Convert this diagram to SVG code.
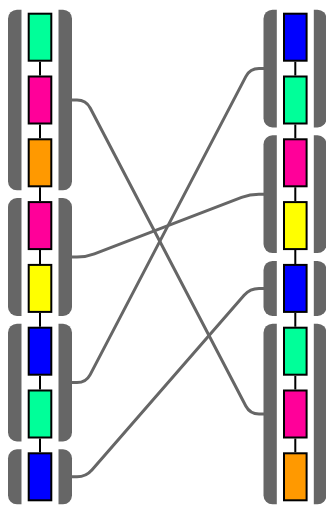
<svg xmlns="http://www.w3.org/2000/svg" width="326" height="505" viewBox="0 0 326 505">
<style>
.grp{fill:#666666}
.strip{fill:#ffffff}
.box{stroke:#000000;stroke-width:2}
.teal{fill:#00ff99}
.mag{fill:#ff0099}
.org{fill:#ff9900}
.yel{fill:#ffff00}
.blu{fill:#0000ff}
.link{fill:none;stroke:#666666;stroke-width:3}
.chain{stroke:#000000;stroke-width:2}
</style>
<rect width="326" height="505" fill="#ffffff"/>
<g id="left-1">
<rect class="grp" x="8" y="9.7" width="64" height="180.6" rx="9"/>
<rect class="strip" x="21.5" y="9" width="37" height="182"/>
<rect class="box teal" x="28.7" y="13.7" width="22.6" height="47"/>
<rect class="box mag" x="28.7" y="76.5" width="22.6" height="47"/>
<rect class="box org" x="28.7" y="139.3" width="22.6" height="47"/>
</g>
<g id="left-2">
<rect class="grp" x="8" y="198.1" width="64" height="117.8" rx="9"/>
<rect class="strip" x="21.5" y="197" width="37" height="120"/>
<rect class="box mag" x="28.7" y="202.1" width="22.6" height="47"/>
<rect class="box yel" x="28.7" y="264.9" width="22.6" height="47"/>
</g>
<g id="left-3">
<rect class="grp" x="8" y="323.7" width="64" height="117.8" rx="9"/>
<rect class="strip" x="21.5" y="323" width="37" height="120"/>
<rect class="box blu" x="28.7" y="327.7" width="22.6" height="47"/>
<rect class="box teal" x="28.7" y="390.5" width="22.6" height="47"/>
</g>
<g id="left-4">
<rect class="grp" x="8" y="449.3" width="64" height="55" rx="9"/>
<rect class="strip" x="21.5" y="449" width="37" height="56"/>
<rect class="box blu" x="28.7" y="453.3" width="22.6" height="47"/>
</g>
<g id="right-1">
<rect class="grp" x="263.5" y="9.7" width="63" height="117.8" rx="9"/>
<rect class="strip" x="276.8" y="9" width="37" height="120"/>
<rect class="box blu" x="284" y="13.7" width="22.6" height="47"/>
<rect class="box teal" x="284" y="76.5" width="22.6" height="47"/>
</g>
<g id="right-2">
<rect class="grp" x="263.5" y="135.3" width="63" height="117.8" rx="9"/>
<rect class="strip" x="276.8" y="135" width="37" height="120"/>
<rect class="box mag" x="284" y="139.3" width="22.6" height="47"/>
<rect class="box yel" x="284" y="202.1" width="22.6" height="47"/>
</g>
<g id="right-3">
<rect class="grp" x="263.5" y="260.9" width="63" height="55" rx="9"/>
<rect class="strip" x="276.8" y="260" width="37" height="57"/>
<rect class="box blu" x="284" y="264.9" width="22.6" height="47"/>
</g>
<g id="right-4">
<rect class="grp" x="263.5" y="323.7" width="63" height="180.6" rx="9"/>
<rect class="strip" x="276.8" y="323" width="37" height="182"/>
<rect class="box teal" x="284" y="327.7" width="22.6" height="47"/>
<rect class="box mag" x="284" y="390.5" width="22.6" height="47"/>
<rect class="box org" x="284" y="453.3" width="22.6" height="47"/>
</g>
<g id="connectors">
<path class="chain" d="M40,61.7V75.5M40,124.5V138.3M40,187.3V201.1M40,250.1V263.9M40,312.9V326.7M40,375.7V389.5M40,438.5V452.3"/>
<path class="chain" d="M295.3,61.7V75.5M295.3,124.5V138.3M295.3,187.3V201.1M295.3,250.1V263.9M295.3,312.9V326.7M295.3,375.7V389.5M295.3,438.5V452.3"/>
<path class="link" d="M72,100 H77 Q86,100 90.2,108 L245.8,406 Q250,414 259,414 H264"/>
<path class="link" d="M72,257 H77 Q86,257 94.4,253.8 L241.6,197.4 Q250,194.2 259,194.2 H264"/>
<path class="link" d="M72,382.6 H77 Q86,382.6 90.2,374.6 L245.8,76.6 Q250,68.6 259,68.6 H264"/>
<path class="link" d="M72,476.8 H77 Q86,476.8 91.9,470 L244.1,295.2 Q250,288.4 259,288.4 H264"/>
</g>
</svg>
